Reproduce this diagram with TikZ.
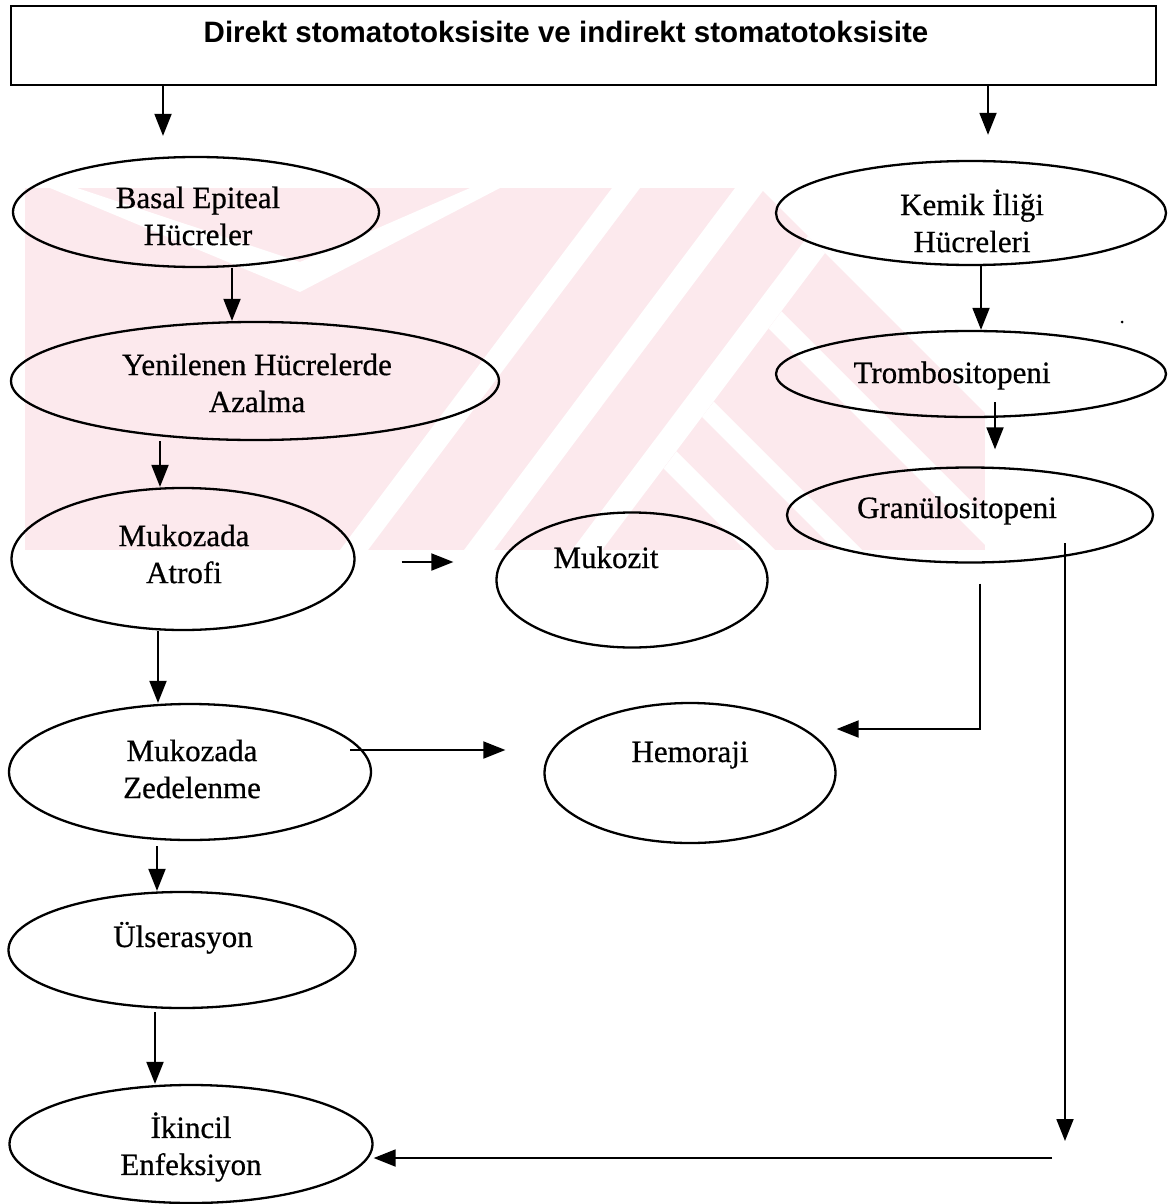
\documentclass[tikz,border=0pt]{standalone}
\usepackage{fontspec}
\setmainfont{Liberation Serif}[FakeBold=0.6]
\newfontfamily\titlefont{Liberation Sans}
\usetikzlibrary{shapes.geometric,arrows.meta,calc}
\definecolor{wm}{RGB}{252,233,237}
\begin{document}
\begin{tikzpicture}[x=1pt,y=-1pt,
  oval/.style={draw, ellipse, line width=2.3pt, inner sep=0pt},
  lbl/.style={font=\fontsize{31}{37}\selectfont, align=center, inner sep=0pt},
  arr/.style={line width=1.9pt, -{Triangle[width=17pt,length=22pt]}},
  ln/.style={line width=1.9pt}]
\useasboundingbox (0,0) rectangle (1169,1204);
% watermark (faint logo behind the chart)
\fill[wm] (25,188) rectangle (985,550);
\fill[white] (50,188) -- (77,188) -- (300,262) -- (470,188) -- (500,188) -- (300,292) -- cycle;
\fill[white] (612,188) -- (640,188) -- (368,550) -- (340,550) -- cycle;
\fill[white] (735,188) -- (765,188) -- (494,550) -- (464,550) -- cycle;
\fill[white] (760,188) -- (985,188) -- (985,413) -- cycle;
\fill[white] (572,550) -- (808,236) -- (825,253) -- (602,550) -- cycle;
\fill[white] (663.6,468.6) -- (676.4,451.4) -- (775,550) -- (745,550) -- cycle;
\fill[white] (702,417) -- (713.7,401.7) -- (862,550) -- (835,550) -- cycle;
\fill[white] (768.6,328.6) -- (781.4,311.4) -- (985,515) -- (985,545) -- cycle;
% title box
\node[draw, line width=1.8pt, minimum width=1145pt, minimum height=79pt, inner sep=0pt] (box) at (583.5,45.5) {};
\node[font=\titlefont\bfseries\fontsize{29.5}{35}\selectfont, anchor=base, inner sep=0pt] (title) at (566,43) {Direkt stomatotoksisite ve indirekt stomatotoksisite};
% ellipses
\node[oval, minimum width=366pt, minimum height=110pt] (basal) at (196,212) {};
\node[oval, minimum width=488pt, minimum height=118pt] (yen) at (255,381) {};
\node[oval, minimum width=343pt, minimum height=142pt] (atr) at (183,559) {};
\node[oval, minimum width=271pt, minimum height=135pt] (muk) at (632,580) {};
\node[oval, minimum width=362pt, minimum height=136pt] (zed) at (190,772) {};
\node[oval, minimum width=291pt, minimum height=140pt] (hem) at (690,773) {};
\node[oval, minimum width=347pt, minimum height=116pt] (uls) at (182,950) {};
\node[oval, minimum width=363pt, minimum height=118pt] (iki) at (191,1144) {};
\node[oval, minimum width=390pt, minimum height=104pt] (kem) at (971,213) {};
\node[oval, minimum width=390pt, minimum height=86pt] (tro) at (971,374) {};
\node[oval, minimum width=366pt, minimum height=95pt] (gra) at (970,515) {};
% texts
\node[lbl] (tbasal) at (198,216) {Basal Epiteal\\Hücreler};
\node[lbl] (tyen) at (257,383) {Yenilenen Hücrelerde\\Azalma};
\node[lbl] (tatr) at (184,554) {Mukozada\\Atrofi};
\node[lbl, anchor=base] (tmuk) at (606,568) {Mukozit};
\node[lbl] (tzed) at (192,769) {Mukozada\\Zedelenme};
\node[lbl, anchor=base] (themo) at (690,762) {Hemoraji};
\node[lbl, anchor=base] (tuls) at (183,947) {Ülserasyon};
\node[lbl] (tiki) at (191,1147) {İkincil\\Enfeksiyon};
\node[lbl] (tkem) at (972,221) {Kemik İliği\\Hücreleri};
\node[lbl, anchor=base] (ttro) at (952,383) {Trombositopeni};
\node[lbl, anchor=base] (tgra) at (957,518) {Granülositopeni};
% connectors
\draw[arr, shorten >=20pt] (box.south -| 163,0) -- (basal.north -| 163,0);
\draw[arr, shorten >=25pt] (box.south -| 988,0) -- (kem.north -| 988,0);
\draw[arr] (basal.south -| 232,0) -- (yen.north -| 232,0);
\draw[arr] (yen.south -| 160,0) -- (atr.north -| 160,0);
\draw[arr, shorten <=46pt, shorten >=42pt] (atr.east |- 0,562) -- (muk.west |- 0,562);
\draw[arr] (atr.south -| 158,0) -- (zed.north -| 158,0);
\draw[arr, shorten <=160pt, shorten >=38pt] (zed.center |- 0,750) -- (hem.west |- 0,750);
\draw[arr, shorten <=5pt] (zed.south -| 157,0) -- (uls.north -| 157,0);
\draw[arr, shorten <=3pt] (uls.south -| 155,0) -- (iki.north -| 155,0);
\draw[arr] (kem.south -| 981,0) -- (tro.north -| 981,0);
\draw[arr, shorten <=28pt, shorten >=17pt] (tro.center -| 995,0) -- (gra.north -| 995,0);
\draw[arr, shorten <=20pt] (gra.south -| 980,0) |- (hem.east |- 0,729);
\coordinate (c1) at (1065,1141);
\coordinate (c2) at (1052,1158);
\draw[arr, shorten <=28pt] (gra.center -| 1065,0) -- (c1);
\draw[arr] (c2) -- (iki.east |- c2);
\fill (1122,322) circle (1.5pt);
\end{tikzpicture}
\end{document}
